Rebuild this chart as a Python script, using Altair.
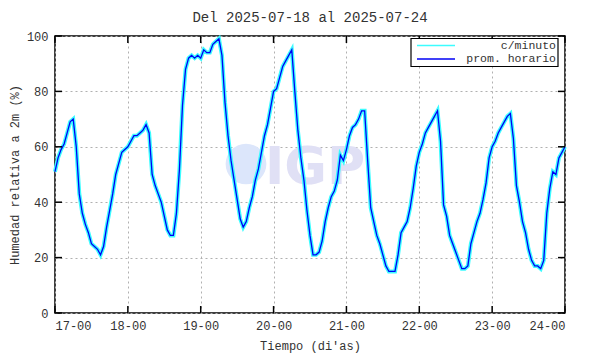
import altair as alt
import pandas as pd

# ---- data (hourly relative humidity, %) ----
day17 = [51, 56, 59, 61, 65, 69, 70, 60, 43, 36, 32, 29, 25, 24, 23, 21, 24, 31, 37, 43, 50, 54, 58, 59]
day18 = [60, 62, 64, 64, 65, 66, 68, 65, 50, 46, 43, 40, 35, 30, 28, 28, 36, 52, 75, 88, 92, 93, 92, 93]
day19 = [92, 95, 94, 94, 97, 98, 99, 93, 76, 64, 55, 48, 41, 34, 31, 33, 38, 42, 48, 52, 58, 64, 68, 74]
day20 = [80, 81, 85, 89, 91, 93, 95, 80, 66, 56, 48, 37, 28, 21, 21, 22, 26, 33, 38, 42, 44, 48, 57, 55]
day21 = [59, 64, 67, 68, 70, 73, 73, 55, 38, 33, 28, 25, 21, 17, 15, 15, 15, 21, 29, 31, 33, 38, 45, 53]
day22 = [58, 61, 65, 67, 69, 71, 73, 62, 39, 35, 28, 25, 22, 19, 16, 16, 17, 25, 29, 33, 36, 41, 47, 56]
day23 = [60, 62, 65, 67, 69, 71, 72, 63, 46, 40, 33, 29, 23, 19, 17, 17, 16, 19, 36, 45, 51, 50, 56, 58]
last = [60]

hourly_values = day17 + day18 + day19 + day20 + day21 + day22 + day23 + last
hours = list(range(len(hourly_values)))

series_names = ["c/minuto", "prom. horario"]
series_colors = ["#3cfcff", "#0000f5"]

x_ticks = [0, 24, 48, 72, 96, 120, 144, 168]
y_ticks = [0, 20, 40, 60, 80, 100]

title_text = "Del 2025-07-18 al 2025-07-24"
x_title = "Tiempo (di'as)"
y_title = "Humedad relativa a 2m (%)"

FONT = "Liberation Mono"
W, H = 510, 277

df_min = pd.DataFrame({"h": hours, "v": hourly_values})
df_hr = pd.DataFrame({"h": hours, "v": hourly_values})

x_enc = alt.X(
    "h:Q",
    scale=alt.Scale(domain=[0, 168], nice=False, zero=False),
    axis=alt.Axis(
        values=x_ticks,
        labelExpr="(17 + datum.value/24) + '-00'",
        title=x_title,
        grid=True,
        gridDash=[2, 3],
        gridColor="#b0b0b0",
        ticks=False,
        domain=False,
        labelPadding=7,
        titlePadding=9,
    ),
)
y_enc = alt.Y(
    "v:Q",
    scale=alt.Scale(domain=[0, 100], nice=False),
    axis=alt.Axis(
        values=y_ticks,
        title=y_title,
        grid=True,
        gridDash=[2, 3],
        gridColor="#b0b0b0",
        ticks=False,
        domain=False,
        labelPadding=7,
        titlePadding=5,
    ),
)

cyan_line = alt.Chart(df_min).mark_line(strokeWidth=4, color=series_colors[0]).encode(x=x_enc, y=y_enc)
blue_line = alt.Chart(df_hr).mark_line(strokeWidth=1.3, color=series_colors[1]).encode(x=x_enc, y=y_enc)

# inward ticks
xt = pd.DataFrame({"h": x_ticks})
yt = pd.DataFrame({"v": y_ticks})
tick_style = dict(color="#000000", strokeWidth=1.5)
bottom_ticks = alt.Chart(xt).mark_rule(**tick_style).encode(x="h:Q", y=alt.value(H), y2=alt.value(H - 7))
top_ticks = alt.Chart(xt).mark_rule(**tick_style).encode(x="h:Q", y=alt.value(0), y2=alt.value(7))
left_ticks = alt.Chart(yt).mark_rule(**tick_style).encode(y="v:Q", x=alt.value(0), x2=alt.value(7))
right_ticks = alt.Chart(yt).mark_rule(**tick_style).encode(y="v:Q", x=alt.value(W), x2=alt.value(W - 7))

# faint watermark
one = pd.DataFrame({"a": [0]})
wm_circle = alt.Chart(one).mark_circle(size=1660, color="#dce6fb", opacity=1).encode(
    x=alt.value(191), y=alt.value(128))
wm_text = alt.Chart(pd.DataFrame({"t": ["IGP"]})).mark_text(
    font="DejaVu Sans", fontWeight="bold", fontSize=52, color="#e0e0f5", align="left", baseline="middle"
).encode(x=alt.value(210), y=alt.value(132), text="t:N")

# legend (boxed key in the upper right corner)
leg_box = alt.Chart(one).mark_rect(fill="#ffffff", stroke="#000000", strokeWidth=1.2).encode(
    x=alt.value(356), x2=alt.value(503), y=alt.value(2.5), y2=alt.value(30.5))
legend_layers = []
for name, col, ry in zip(series_names, series_colors, [9.5, 23]):
    d = pd.DataFrame({"serie": [name]})
    legend_layers.append(
        alt.Chart(d).mark_rule(color=col, strokeWidth=1.3).encode(
            x=alt.value(362), x2=alt.value(400), y=alt.value(ry))
    )
    legend_layers.append(
        alt.Chart(d).mark_text(font=FONT, fontSize=11.5, color="#333333", align="right", baseline="middle").encode(
            x=alt.value(501), y=alt.value(ry), text="serie:N")
    )

chart = (
    alt.layer(wm_circle, wm_text, cyan_line, blue_line, bottom_ticks, top_ticks, left_ticks, right_ticks,
              leg_box, *legend_layers)
    .properties(
        width=W,
        height=H,
        title=alt.TitleParams(title_text, font=FONT, fontSize=14, fontWeight="normal", color="#333333", offset=5),
        padding={"left": 0, "top": 3, "right": 5, "bottom": 3},
    )
    .configure_view(stroke="#000000", strokeWidth=1.5)
    .configure_axis(
        labelFont=FONT,
        labelFontSize=12,
        labelColor="#333333",
        titleFont=FONT,
        titleFontSize=12,
        titleFontWeight="normal",
        titleColor="#333333",
    )
)

chart.save("out.html", embed_options={"renderer": "svg", "actions": False})
